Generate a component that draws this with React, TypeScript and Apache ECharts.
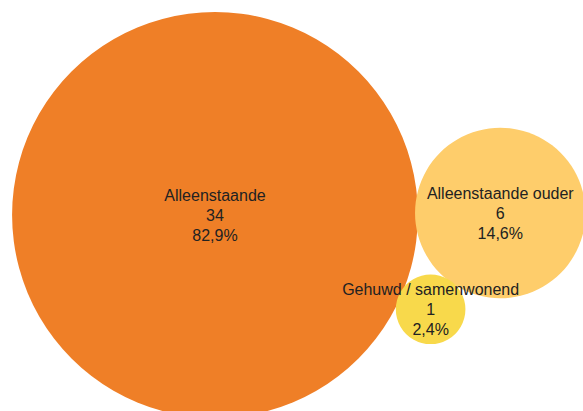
import React, { useEffect, useRef } from "react";
import * as echarts from "echarts";

const categories = ["Alleenstaande", "Alleenstaande ouder", "Gehuwd / samenwonend"];
const counts = [34, 6, 1];
const colors = ["#EF7F27", "#FECD6B", "#F8D94B"];

const W = 583;
const H = 411;

function layout() {
  const k = 34.8;
  const pack = 0.99;
  const r = counts.map((v) => k * Math.sqrt(v));
  const c0 = [215, 215];
  const d01 = (r[0] + r[1]) * pack;
  const c1 = [c0[0] + d01, c0[1] - 2];
  const d0 = (r[0] + r[2]) * pack;
  const d1 = (r[1] + r[2]) * pack;
  const dx = c1[0] - c0[0];
  const dy = c1[1] - c0[1];
  const d = Math.sqrt(dx * dx + dy * dy);
  const a = (d0 * d0 - d1 * d1 + d * d) / (2 * d);
  const h = Math.sqrt(Math.max(0, d0 * d0 - a * a));
  const ux = dx / d;
  const uy = dy / d;
  const c2 = [c0[0] + a * ux - h * uy, c0[1] + a * uy + h * ux];
  return { r, centers: [c0, c1, c2] };
}

export default function App() {
  const ref = useRef<HTMLDivElement>(null);
  useEffect(() => {
    if (!ref.current) return;
    const chart = echarts.init(ref.current, null, { renderer: "svg" });
    const total = counts.reduce((s, v) => s + v, 0);
    const { r, centers } = layout();
    const data = categories.map((name, i) => ({
      name,
      value: [centers[i][0], centers[i][1], counts[i]],
      symbolSize: r[i] * 2,
      itemStyle: { color: colors[i], opacity: 1 },
    }));
    chart.setOption({
      animation: false,
      grid: { left: 0, right: 0, top: 0, bottom: 0 },
      xAxis: { type: "value", min: 0, max: W, show: false },
      yAxis: { type: "value", min: 0, max: H, inverse: true, show: false },
      series: [
        {
          type: "scatter",
          clip: false,
          symbol: "circle",
          data,
          label: {
            show: true,
            position: "inside",
            color: "#222",
            fontFamily: "Liberation Sans, Arial, sans-serif",
            fontSize: 16,
            lineHeight: 20,
            align: "center",
            formatter: (p: any) => {
              const v = p.value[2];
              const pct = ((v / total) * 100).toFixed(1).replace(".", ",");
              return `${p.name}\n${v}\n${pct}%`;
            },
          },
          emphasis: { disabled: true },
        },
      ],
    });
    return () => chart.dispose();
  }, []);
  return (
    <div
      ref={ref}
      style={{ position: "absolute", left: 0, top: 0, width: W, height: H, background: "#fff" }}
    />
  );
}
